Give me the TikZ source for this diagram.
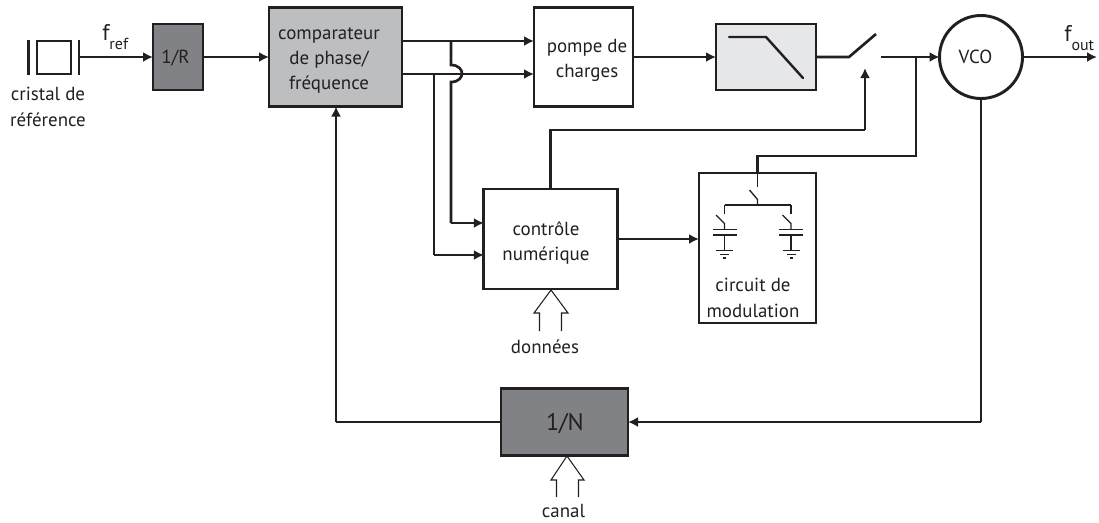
\documentclass[tikz,border=0pt]{standalone}
\usepackage{fontspec}
\setmainfont{PT Sans}
\usetikzlibrary{arrows.meta}
\definecolor{ink}{HTML}{231F20}
\definecolor{darkfill}{HTML}{808285}
\definecolor{midfill}{HTML}{BCBEC0}
\definecolor{lightfill}{HTML}{E6E7E8}
\newcommand{\flabel}[2]{{\fontsize{17}{17}\selectfont f}\raisebox{-6.75pt}{\fontsize{#1}{#1}\selectfont #2}}
\tikzset{
  x=0.75pt,y=-0.75pt,
  wire/.style={draw=ink,line width=2pt,line join=miter},
  thin wire/.style={draw=ink,line width=1pt},
  arrowed/.style={wire,-{Latex[length=7.5pt,width=7.5pt]}},
  blockbox/.style={draw=ink,line width=2.2pt,fill=white,outer sep=0pt,inner sep=0pt},
  caption/.style={text=ink,align=center,inner sep=0pt,font=\fontsize{14.2}{18.75}\selectfont},
  wide caption/.style={caption,font=\fontsize{14.2}{19.5}\selectfont},
  base caption/.style={text=ink,inner sep=0pt,anchor=base,font=\fontsize{14.2}{18}\selectfont},
  hollow/.style={draw=ink,line width=0.8pt,fill=white,line join=miter},
}
\begin{document}
\begin{tikzpicture}
\useasboundingbox (0,0) rectangle (1099,522);
% blocks
\node[blockbox,minimum width=37.5pt,minimum height=49.5pt,fill=darkfill] (r) at (178,57) {};
\node[blockbox,minimum width=99.75pt,minimum height=74.25pt,fill=midfill] (cmp) at (335.5,57) {};
\node[blockbox,minimum width=74.25pt,minimum height=74.25pt] (pump) at (583.5,57) {};
\node[blockbox,minimum width=75pt,minimum height=49.5pt,fill=lightfill] (filt) at (766,57) {};
\node[blockbox,circle,minimum size=62.25pt] (vco) at (981,57) {};
\node[blockbox,minimum width=100pt,minimum height=75pt] (ctl) at (550.5,239) {};
\node[blockbox,minimum width=87.75pt,minimum height=112.5pt] (mod) at (757.5,248) {};
\node[blockbox,minimum width=95.25pt,minimum height=50.25pt,fill=darkfill] (n) at (564.5,422) {};
% block texts
\node[base caption] (rtext) at (175.5,63) {1/R};
\node[caption] (cmptext) at (329,60) {comparateur\\de phase/\\fréquence};
\node[caption] (pumptext) at (587,60) {pompe de\\charges};
\node[base caption] (vcotext) at (975.5,63) {VCO};
\node[caption] (ctltext) at (546,242.5) {contrôle\\numérique};
\node[wide caption] (modlab) at (753,298) {circuit de\\modulation};
\node[base caption,font=\fontsize{18}{20}\selectfont] (ntext) at (565,430) {1/N};
% crystal
\node[draw=ink,line width=1.6pt,fill=white,minimum width=25.5pt,minimum height=24.75pt,inner sep=0pt,outer sep=0pt] (xtal) at (54,57.5) {};
\coordinate (barLt) at (28.5,40); \coordinate (barLb) at (28.5,75);
\coordinate (barRt) at (79,40); \coordinate (barRb) at (79,75);
\draw[draw=ink,line width=1.6pt] (barLt) -- (barLb);
\draw[draw=ink,line width=1.6pt] (barRt) -- (barRb);
\coordinate (xout) at (79,57);
\draw[arrowed] (xout) -- (r.west);
\draw[arrowed] (r.east) -- (cmp.west);
% labels
\node[wide caption] (xlab) at (48,107) {cristal de\\référence};
\node[text=ink,inner sep=0pt,anchor=base west] (fref) at (102,40) {\flabel{12}{ref}};
\node[text=ink,inner sep=0pt,anchor=base west] (fout) at (1064,41) {\flabel{12}{out}};
\node[base caption] (data) at (545,353) {données};
\node[base caption] (chan) at (563.5,517.5) {canal};
% comparator outputs
\coordinate (o1) at (402,41); \coordinate (o2) at (402,74);
\draw[arrowed] (o1) -- (pump.west |- o1);
\draw[arrowed] (o2) -- (pump.west |- o2);
\coordinate (t1) at (451,41); \coordinate (h1) at (451,65); \coordinate (h2) at (451,82);
\coordinate (c1) at (451,223); \coordinate (t2) at (434,74); \coordinate (c2) at (434,255);
\draw[wire] (t1) -- (h1) .. controls (459,65) and (462,70) .. (462,73.5) .. controls (462,77) and (459,82) .. (h2) -- (c1);
\draw[arrowed] (c1) -- (ctl.west |- c1);
\draw[wire] (t2) -- (c2);
\draw[arrowed] (c2) -- (ctl.west |- c2);
% forward path
\draw[arrowed] (pump.east) -- (filt.west);
\coordinate (f1) at (729,37); \coordinate (f2) at (766,37); \coordinate (f3) at (803,78);
\draw[draw=ink,line width=1.8pt,line cap=round] (f1) -- (f2) -- (f3);
\coordinate (sw1) at (849,57); \coordinate (sw2) at (876,34); \coordinate (sw3) at (881,57);
\draw[wire] (filt.east) -- (sw1) -- (sw2);
\draw[arrowed] (sw3) -- (vco.west);
\coordinate (outend) at (1097,57);
\draw[arrowed] (vco.east) -- (outend);
% control of the switch
\coordinate (u2) at (865,130); \coordinate (u3) at (865,68);
\coordinate (u1) at (ctl.north |- u2);
\draw[wire] (ctl.north) -- (u1) -- (u2);
\draw[arrowed] (u2) -- (u3);
\coordinate (ma) at (ctl.east -| mod.west);
\draw[arrowed] (ctl.east) -- (ma);
% modulation feed
\coordinate (m0) at (916,57); \coordinate (m1) at (916,156); \coordinate (m2) at (757.5,156); \coordinate (m3) at (757.5,187);
\draw[wire] (m0) -- (m1) -- (m2) -- (mod.north);
\draw[thin wire] (mod.north) -- (m3);
% modulation inner switch
\coordinate (b1) at (749.5,190); \coordinate (b2) at (757.5,199.5); \coordinate (b3) at (757.5,205);
\coordinate (hl) at (724.5,205); \coordinate (hr) at (791,205);
\draw[thin wire] (b1) -- (b2) -- (b3);
\draw[thin wire] (hl) -- (hr);
% capacitors
\foreach \nm/\cx in {l/724.5,r/791}{
  \coordinate (s\nm a) at (\cx,205); \coordinate (s\nm b) at (\cx,214);
  \coordinate (s\nm c) at (\cx-8.5,215); \coordinate (s\nm d) at (\cx,223.5);
  \coordinate (s\nm e) at (\cx,229.5); \coordinate (s\nm f) at (\cx,235); \coordinate (s\nm g) at (\cx,250.5);
  \draw[thin wire] (s\nm a) -- (s\nm b);
  \draw[thin wire] (s\nm c) -- (s\nm d) -- (s\nm e);
  \draw[thin wire] (\cx-12,229.5) -- (\cx+12,229.5);
  \draw[thin wire] (\cx-12,235) -- (\cx+12,235);
  \draw[thin wire] (s\nm f) -- (s\nm g);
  \draw[thin wire] (\cx-8.5,250.5) -- (\cx+8.5,250.5);
  \draw[draw=ink,line width=0.8pt] (\cx-4.5,254.5) -- (\cx+4.5,254.5);
  \draw[draw=ink,line width=0.8pt] (\cx-1.5,258) -- (\cx+1.5,258);
}
% loop
\coordinate (v1) at (981,422);
\draw[wire] (vco.south) -- (v1);
\draw[arrowed] (v1) -- (n.east);
\coordinate (l1) at (336,422);
\draw[wire] (n.west) -- (l1);
\draw[arrowed] (l1) -- (l1 |- cmp.south);
% hollow arrows
\draw[hollow] (539.5,331) -- (539.5,313) -- (534,313) -- (551,290) -- (568,313) -- (561.5,313) -- (561.5,331);
\draw[hollow] (556.5,497) -- (556.5,480) -- (551,480) -- (567,456) -- (584,480) -- (578.5,480) -- (578.5,497);
\end{tikzpicture}
\end{document}
